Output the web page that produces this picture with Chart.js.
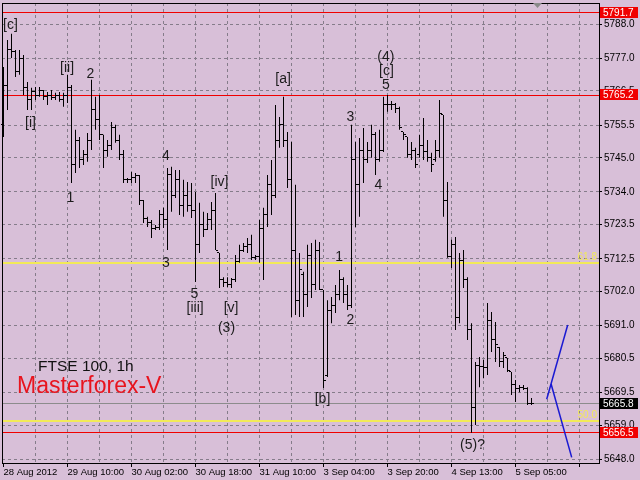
<!DOCTYPE html>
<html>
<head>
<meta charset="utf-8">
<script src="https://cdn.jsdelivr.net/npm/chart.js@4.4.0/dist/chart.umd.min.js"></script>
<style>
  html, body { margin: 0; padding: 0; background: #d8bfd8; }
  #wrap { width: 640px; height: 480px; position: relative; }
</style>
</head>
<body>
<div id="wrap"><canvas id="chart"></canvas></div>
<script>
"use strict";

// FTSE 100, H1 bars (index 0 = first visible bar)
const highs = [
  5774.2, 5782.9, 5784.9, 5779.7, 5779.7, 5778.1, 5769.4, 5767.5, 5767.8, 5767.8,
  5766.8, 5766.2, 5766.8, 5765.9, 5766.2, 5765.9, 5771.7, 5768.4, 5754.0, 5751.7,
  5747.5, 5753.0, 5770.1, 5764.6, 5765.2, 5752.4, 5750.7, 5756.5, 5755.6, 5752.4,
  5747.5, 5738.5, 5740.4, 5740.1, 5739.5, 5731.4, 5726.0, 5725.0, 5723.4, 5728.2,
  5728.9, 5741.7, 5742.1, 5741.1, 5741.1, 5737.9, 5737.2, 5736.9, 5734.0, 5730.5,
  5727.6, 5727.2, 5730.8, 5733.7, 5714.4, 5706.6, 5706.6, 5706.3, 5713.7, 5717.0,
  5717.6, 5719.2, 5720.2, 5713.7, 5725.0, 5728.9, 5739.5, 5744.3, 5762.0, 5758.1,
  5764.6, 5753.3, 5750.1, 5736.3, 5714.4, 5708.3, 5717.0, 5717.6, 5718.6, 5717.9,
  5702.5, 5699.2, 5700.2, 5704.1, 5708.9, 5706.6, 5704.1, 5755.6, 5750.1, 5751.4,
  5754.6, 5750.1, 5755.6, 5753.3, 5754.0, 5764.6, 5765.2, 5763.3, 5762.6, 5761.4,
  5753.3, 5751.7, 5750.1, 5748.2, 5752.4, 5757.8, 5750.7, 5746.6, 5750.7, 5763.6,
  5758.8, 5737.2, 5718.6, 5719.5, 5714.4, 5715.3, 5706.6, 5691.8, 5679.3, 5680.9,
  5679.9, 5698.3, 5695.4, 5692.2, 5684.1, 5682.5, 5680.6, 5676.1, 5673.5, 5671.9,
  5671.9, 5671.2, 5667.7
];
const lows = [
  5751.7, 5760.4, 5777.1, 5771.0, 5771.7, 5765.2, 5760.4, 5760.4, 5763.6, 5764.6,
  5763.6, 5762.0, 5763.6, 5763.6, 5763.0, 5761.4, 5762.6, 5736.9, 5740.1, 5741.7,
  5742.7, 5743.7, 5747.5, 5754.0, 5750.7, 5741.7, 5745.3, 5747.5, 5749.8, 5744.3,
  5736.9, 5736.9, 5736.9, 5736.9, 5729.8, 5724.0, 5722.7, 5719.2, 5721.8, 5721.8,
  5722.4, 5715.3, 5727.6, 5732.1, 5726.6, 5726.0, 5727.6, 5725.6, 5705.0, 5714.4,
  5719.5, 5721.8, 5721.8, 5715.3, 5703.1, 5703.4, 5703.4, 5703.1, 5705.0, 5711.2,
  5714.7, 5714.4, 5712.1, 5712.1, 5711.2, 5705.7, 5722.7, 5726.6, 5732.1, 5748.2,
  5748.5, 5735.3, 5693.8, 5694.4, 5693.8, 5693.8, 5697.0, 5699.9, 5702.5, 5702.5,
  5670.9, 5674.5, 5691.8, 5695.1, 5699.2, 5698.3, 5696.0, 5696.7, 5722.7, 5726.0,
  5736.9, 5743.3, 5745.0, 5739.5, 5743.7, 5746.9, 5759.8, 5760.4, 5759.4, 5754.0,
  5750.7, 5745.0, 5744.3, 5741.7, 5745.0, 5744.3, 5743.7, 5740.4, 5743.7, 5745.0,
  5726.0, 5712.8, 5709.5, 5689.6, 5691.8, 5703.1, 5686.4, 5656.5, 5659.0, 5671.2,
  5674.1, 5675.1, 5682.5, 5679.3, 5677.7, 5677.4, 5676.1, 5668.7, 5666.4, 5669.6,
  5670.3, 5665.5, 5665.5
];
const opens = [
  5755.6, 5768.4, 5779.7, 5779.1, 5772.6, 5777.1, 5767.5, 5763.6, 5766.2, 5765.2,
  5766.8, 5764.6, 5765.2, 5764.3, 5764.9, 5763.9, 5765.2, 5767.5, 5742.7, 5750.7,
  5744.3, 5745.9, 5750.7, 5760.4, 5757.2, 5752.4, 5747.5, 5749.1, 5754.6, 5750.7,
  5745.9, 5737.9, 5737.9, 5738.5, 5739.2, 5731.4, 5725.6, 5724.3, 5722.4, 5722.7,
  5726.6, 5725.0, 5739.5, 5733.0, 5737.9, 5729.8, 5733.0, 5729.8, 5728.2, 5717.0,
  5723.4, 5721.8, 5725.0, 5728.2, 5714.4, 5705.7, 5705.0, 5704.1, 5705.7, 5711.5,
  5715.3, 5716.3, 5717.0, 5712.8, 5713.1, 5722.4, 5726.6, 5736.3, 5733.0, 5750.7,
  5755.6, 5750.7, 5737.9, 5715.3, 5699.2, 5707.3, 5700.9, 5713.7, 5704.1, 5715.3,
  5702.5, 5675.1, 5696.0, 5697.6, 5700.9, 5705.7, 5700.9, 5697.6, 5744.3, 5736.3,
  5747.5, 5744.3, 5747.5, 5752.4, 5744.3, 5747.5, 5762.0, 5762.3, 5762.0, 5761.0,
  5753.3, 5751.7, 5745.9, 5747.5, 5745.9, 5749.1, 5746.9, 5745.0, 5744.3, 5747.5,
  5758.8, 5731.4, 5713.4, 5717.0, 5693.5, 5712.1, 5705.7, 5689.6, 5664.5, 5678.3,
  5678.0, 5677.4, 5692.8, 5686.4, 5684.1, 5679.3, 5680.6, 5676.1, 5671.9, 5670.9,
  5671.2, 5670.9, 5665.8
];
const closes = [
  5768.4, 5779.7, 5779.1, 5772.6, 5777.1, 5767.5, 5763.6, 5766.2, 5765.2, 5766.8,
  5764.6, 5765.2, 5764.3, 5764.9, 5763.9, 5765.2, 5767.5, 5742.7, 5750.7, 5744.3,
  5745.9, 5750.7, 5760.4, 5757.2, 5752.4, 5747.5, 5749.1, 5754.6, 5750.7, 5745.9,
  5737.9, 5737.9, 5738.5, 5739.2, 5731.4, 5725.6, 5724.3, 5722.4, 5722.7, 5726.6,
  5725.0, 5739.5, 5733.0, 5737.9, 5729.8, 5733.0, 5729.8, 5728.2, 5717.0, 5723.4,
  5721.8, 5725.0, 5728.2, 5715.3, 5705.7, 5705.0, 5704.1, 5705.7, 5711.5, 5715.3,
  5716.3, 5717.0, 5712.8, 5713.1, 5722.4, 5726.6, 5736.3, 5733.0, 5750.7, 5755.6,
  5750.7, 5737.9, 5715.3, 5699.2, 5708.9, 5700.9, 5713.7, 5704.1, 5715.3, 5702.5,
  5673.5, 5696.0, 5697.6, 5700.9, 5705.7, 5700.9, 5697.6, 5744.3, 5736.3, 5747.5,
  5744.3, 5747.5, 5752.4, 5744.3, 5747.5, 5762.0, 5762.3, 5762.0, 5761.0, 5754.6,
  5752.4, 5745.9, 5747.5, 5742.7, 5749.1, 5746.9, 5745.0, 5742.7, 5747.5, 5759.4,
  5731.4, 5713.4, 5717.0, 5693.5, 5712.1, 5705.7, 5689.6, 5664.5, 5678.3, 5678.0,
  5677.4, 5692.8, 5686.4, 5684.8, 5679.3, 5681.5, 5676.7, 5671.9, 5670.9, 5671.2,
  5670.9, 5665.8, 5665.8
];

// time axis: one label every 16 bars
const timeLabels = [
  "28 Aug 2012", "29 Aug 10:00", "30 Aug 02:00", "30 Aug 18:00", "31 Aug 10:00",
  "3 Sep 04:00", "3 Sep 20:00", "4 Sep 13:00", "5 Sep 05:00"
];
const priceTicks = [
  5788.0, 5777.0, 5766.5, 5755.5, 5745.0, 5734.0, 5723.5, 5712.5,
  5702.0, 5691.0, 5680.5, 5669.5, 5659.0, 5648.0
];

// horizontal levels
const redLevels = [5791.7, 5765.2, 5656.5];
const fibLevels = [5711.2, 5660.4];
const fibNames = ["61.8", "50.0"];
const bidPrice = 5665.8;

// projection lines (bar index, price)
const projUpX = [135.8, 141.05];
const projUpY = [5667.3, 5691.2];
const projDownX = [136.9, 142.05];
const projDownY = [5672.2, 5648.6];

// wave labels
const waveText = ["[c]", "[ii]", "2", "[i]", "1", "4", "[iv]", "3", "5", "[iii]", "[v]", "(3)",
  "[a]", "(4)", "[c]", "5", "3", "4", "1", "2", "[b]", "(5)?"];
const waveBar = [1.75, 15.9, 21.75, 6.75, 16.75, 40.6, 54, 40.6, 47.75, 47.9, 56.9, 55.75,
  69.9, 95.6, 95.75, 95.6, 86.75, 93.75, 83.9, 86.75, 79.75, 117.25];
const wavePrice = [5787.8, 5773.8, 5772.0, 5756.1, 5732.1, 5745.6, 5737.2, 5711.2, 5701.0, 5696.5, 5696.5, 5690.2,
  5770.4, 5777.3, 5772.8, 5768.4, 5758.1, 5736.3, 5712.9, 5692.8, 5667.5, 5652.6];

const BG = "#d8bfd8";
const GRID = "#857c8a";
const RED = "#f00000";
const FONT = "'Liberation Sans', Arial, sans-serif";

Chart.defaults.font.family = FONT;
Chart.defaults.font.size = 10;
Chart.defaults.color = "#000";

const gridSteps = [];
for (let v = 0; v <= 144; v += 8) gridSteps.push(v);

const mt4Plugin = {
  id: "mt4",
  beforeDraw(chart) {
    const c = chart.ctx;
    c.save();
    c.fillStyle = BG;
    c.fillRect(0, 0, chart.width, chart.height);
    c.restore();
  },
  beforeDatasetsDraw(chart) {
    const { ctx: c, chartArea: a, scales: { y } } = chart;
    const row = (v) => Math.round(y.getPixelForValue(v) - 0.5);
    c.save();
    c.fillStyle = "#8c8c8c";
    c.fillRect(a.left, row(bidPrice), a.right - a.left, 1);
    c.fillStyle = RED;
    redLevels.forEach((v) => c.fillRect(a.left, row(v), a.right - a.left, 1));
    c.fillStyle = "#f2ea58";
    c.font = "10px " + FONT;
    c.textAlign = "right";
    c.textBaseline = "alphabetic";
    fibLevels.forEach((v, k) => {
      c.fillRect(a.left, row(v), a.right - a.left, 2);
      c.fillText(fibNames[k], a.right - 2, row(v) - 2);
    });
    c.restore();
  },
  afterDatasetsDraw(chart) {
    const { ctx: c, chartArea: a, scales: { x, y } } = chart;
    c.save();
    c.fillStyle = "#000";
    opens.forEach((o, i) => {
      const col = Math.round(x.getPixelForValue(i) - 0.5);
      c.fillRect(col - 2, Math.round(y.getPixelForValue(o) - 0.5), 2, 1);
      c.fillRect(col + 1, Math.round(y.getPixelForValue(closes[i]) - 0.5), 2, 1);
    });
    // wave counts
    c.fillStyle = "#1c1c1c";
    c.font = "14px " + FONT;
    c.textAlign = "center";
    c.textBaseline = "middle";
    waveText.forEach((t, k) => {
      c.fillText(t, x.getPixelForValue(waveBar[k]), y.getPixelForValue(wavePrice[k]));
    });
    // caption
    c.textAlign = "left";
    c.textBaseline = "alphabetic";
    c.fillStyle = "#111";
    c.font = "15.5px " + FONT;
    c.fillText("FTSE 100, 1h", a.left + 36, a.top + 368);
    c.fillStyle = "#e8141e";
    c.font = "23px " + FONT;
    c.fillText("Masterforex-V", a.left + 15, a.top + 390);
    // frame
    c.fillStyle = "#000";
    c.fillRect(a.left, a.top, 1, a.bottom - a.top);
    c.fillRect(a.left, a.top, a.right - a.left, 1);
    c.restore();
  },
  afterDraw(chart) {
    const { ctx: c, chartArea: a, scales: { x, y } } = chart;
    c.save();
    c.font = "10px " + FONT;
    c.textAlign = "left";
    c.textBaseline = "middle";
    const box = (v, fill) => {
      const yy = Math.round(y.getPixelForValue(v));
      c.fillStyle = fill;
      c.fillRect(a.right + 1, yy - 6, 38, 11);
      c.fillStyle = "#fff";
      c.fillText(v.toFixed(1), a.right + 4, yy);
    };
    redLevels.forEach((v) => box(v, RED));
    box(bidPrice, "#000");
    // chart shift marker
    const sx = x.getPixelForValue(133.5);
    c.fillStyle = "#8a8a8a";
    c.beginPath();
    c.moveTo(sx - 4.5, a.top);
    c.lineTo(sx + 4.5, a.top);
    c.lineTo(sx, a.top + 5);
    c.closePath();
    c.fill();
    c.restore();
  }
};

new Chart(document.getElementById("chart"), {
  type: "bar",
  data: {
    datasets: [
      {
        type: "line",
        data: projUpX.map((v, i) => ({ x: v, y: projUpY[i] })),
        borderColor: "#1a1ad2",
        borderWidth: 1.5,
        pointRadius: 0,
        order: 1,
      },
      {
        type: "line",
        data: projDownX.map((v, i) => ({ x: v, y: projDownY[i] })),
        borderColor: "#1a1ad2",
        borderWidth: 1.5,
        pointRadius: 0,
        order: 1,
      },
      {
        type: "bar",
        data: highs.map((h, i) => ({ x: i, y: [lows[i], h] })),
        backgroundColor: "#000",
        barThickness: 1,
        inflateAmount: 0,
        borderWidth: 0,
        order: 2,
      },
    ],
  },
  options: {
    responsive: true,
    maintainAspectRatio: false,
    devicePixelRatio: 1,
    animation: false,
    events: [],
    layout: { padding: { left: 2, top: 3, right: 0, bottom: 0 } },
    plugins: { legend: { display: false }, tooltip: { enabled: false } },
    scales: {
      x: {
        type: "linear",
        min: -0.375,
        max: 148.875,
        offset: false,
        afterBuildTicks: (s) => { s.ticks = gridSteps.map((v) => ({ value: v })); },
        afterFit: (s) => { s.height = 17; s.paddingLeft = 0; s.paddingRight = 0; },
        grid: {
          offset: false,
          color: (c) => (c.tick && c.tick.value > 0 ? GRID : "transparent"),
          tickLength: 4,
          tickColor: (c) => (c.tick && c.tick.value % 16 === 0 ? "#000" : "transparent"),
        },
        border: { display: true, color: "#000", width: 1, dash: [3, 3] },
        ticks: {
          autoSkip: false,
          maxRotation: 0,
          minRotation: 0,
          align: "start",
          padding: 0,
          font: { size: 9.5 },
          callback: (v) => (v % 16 === 0 ? timeLabels[v / 16] || "" : ""),
        },
      },
      y: {
        position: "right",
        min: 5646.8,
        max: 5794.8,
        afterBuildTicks: (s) => { s.ticks = priceTicks.map((v) => ({ value: v })); },
        afterFit: (s) => { s.width = 41; s.paddingTop = 0; s.paddingBottom = 0; },
        grid: { color: GRID, tickLength: 3, tickColor: "#000" },
        border: { display: true, color: "#000", width: 1, dash: [3, 3] },
        ticks: { padding: 2, callback: (v) => Number(v).toFixed(1) },
      },
    },
  },
  plugins: [mt4Plugin],
});
</script>
</body>
</html>
